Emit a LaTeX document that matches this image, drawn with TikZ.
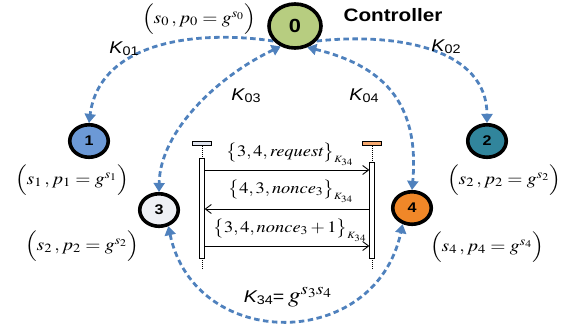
\documentclass[tikz,border=0pt]{standalone}
\usepackage{mathptmx}
\usepackage[no-math]{fontspec}
\setmainfont{Liberation Serif}
\newfontfamily\arial{Liberation Sans}
\usetikzlibrary{arrows.meta,shapes.geometric,backgrounds}
\definecolor{kblue}{RGB}{79,129,189}
\definecolor{cz}{RGB}{183,205,128}
\definecolor{ca}{RGB}{108,153,214}
\definecolor{cb}{RGB}{49,133,156}
\definecolor{cc}{RGB}{238,240,245}
\definecolor{cd}{RGB}{240,135,40}
\definecolor{hdL}{RGB}{222,226,236}
\definecolor{hdR}{RGB}{246,168,110}
\newcommand\sx[1]{\scalebox{1.15}[1]{#1}}
\newcommand\Klab[1]{{\arial\itshape\fontsize{17}{17}\selectfont K}\raisebox{-0.2em}{\arial\fontsize{12.5}{12.5}\selectfont #1}}
\newcommand\pk[2]{\Bigl(#1\,,#2\Bigr)}
\newcommand\ms[1]{\bigl\{#1\bigr\}_{\scriptscriptstyle K_{34}}}
\begin{document}
\begin{tikzpicture}[x=1pt,y=-1pt,
  nd/.style={ellipse,draw=black,line width=3.6pt,minimum width=38.5pt,minimum height=32.5pt,inner sep=0pt,font=\arial\bfseries\fontsize{14}{14}\selectfont},
  key/.style={kblue,line width=2.8pt,dash pattern=on 5.5pt off 3.5pt},
  key1/.style={key,-{Triangle[width=11pt,length=9pt]}},
  key2/.style={key,{Triangle[width=11pt,length=9pt]}-{Triangle[width=11pt,length=9pt]}},
  lab/.style={font=\fontsize{17}{17}\selectfont,inner sep=0pt},
  msglab/.style={font=\fontsize{16}{16}\selectfont,inner sep=0pt},
  hd/.style={draw=black,line width=0.9pt,minimum width=19pt,minimum height=4.5pt,inner sep=0pt},
  bar/.style={draw=black,line width=0.8pt,fill=white,minimum width=4.5pt,inner sep=0pt},
  life/.style={black,line width=0.7pt,dash pattern=on 1pt off 1pt},
  msg/.style={black,line width=0.9pt,-{Straight Barb[length=6pt,width=9pt]}}
]
\useasboundingbox (0,0) rectangle (575,333);
% nodes
\node[nd,fill=cz,minimum width=52pt,minimum height=44pt,font=\arial\bfseries\fontsize{19}{19}\selectfont] (n0) at (295,26) {\sx{0}};
\node[nd,fill=ca] (n1) at (89,141) {\sx{1}};
\node[nd,fill=cb] (n2) at (487,141) {\sx{2}};
\node[nd,fill=cc] (n3) at (159,210) {\sx{3}};
\node[nd,fill=cd] (n4) at (412,208) {\sx{4}};
\node[font=\arial\bfseries\fontsize{18}{18}\selectfont,inner sep=0pt] (ctl) at (393,15) {\sx{Controller}};
% key labels
\node[lab] (l0) at (199,19) {\sx{$\pk{s_0}{p_0=g^{s_0}}$}};
\node[lab] (l1) at (72,180) {\sx{$\pk{s_1}{p_1=g^{s_1}}$}};
\node[lab] (l2) at (504,180) {\sx{$\pk{s_2}{p_2=g^{s_2}}$}};
\node[lab] (l3) at (82,246) {\sx{$\pk{s_2}{p_2=g^{s_2}}$}};
\node[lab] (l4) at (487,247) {\sx{$\pk{s_4}{p_4=g^{s_4}}$}};
\node[inner sep=0pt] (k01) at (124,49) {\sx{\Klab{01}}};
\node[inner sep=0pt] (k02) at (446,47) {\sx{\Klab{02}}};
\node[inner sep=0pt] (k03) at (246,96) {\sx{\Klab{03}}};
\node[inner sep=0pt] (k04) at (364,96) {\sx{\Klab{04}}};
\node[inner sep=0pt] (k34) at (288,297) {\sx{\Klab{34}{\arial\fontsize{17}{17}\selectfont=}\,\,{\fontsize{22}{22}\selectfont$g^{s_3s_4}$}}};
% sequence diagram
\node[hd,fill=hdL] (hL) at (202,143.5) {};
\node[hd,fill=hdR] (hR) at (372,143.5) {};
\node[bar,minimum height=100pt] (bL) at (202,208) {};
\node[bar,minimum height=96pt] (bR) at (372,210) {};
\coordinate (eL) at (202,269);
\coordinate (eR) at (372,269);
\draw[life] (hL) -- (bL);
\draw[life] (hR) -- (bR);
\draw[life] (bL) -- (eL);
\draw[life] (bR) -- (eR);
\draw[msg] (bL.east |- 0,170) -- (bR.west |- 0,170);
\draw[msg] (bR.west |- 0,209) -- (bL.east |- 0,209);
\draw[msg] (bL.east |- 0,246) -- (bR.west |- 0,246);
\node[msglab] (m1) at (290,154) {\sx{$\ms{3,4,\mathit{request}}$}};
\node[msglab] (m2) at (291,191) {\sx{$\ms{4,3,\mathit{nonce}_3}$}};
\node[msglab] (m3) at (290,230) {\sx{$\ms{3,4,\mathit{nonce}_3+1}$}};
% key connectors
\begin{scope}[on background layer]
\draw[key1] (n0.215) .. controls (200,30) and (100,40) .. (n1.north);
\draw[key1] (n0.-35) .. controls (400,32) and (487,50) .. (n2.north);
\draw[key2] (n0.235) .. controls (220,75) and (160,130) .. (n3.north);
\draw[key2] (n0.300) .. controls (380,65) and (420,100) .. (n4.north);
\draw[key2] (n3.-60) .. controls (195,352) and (375,352) .. (n4.240);
\end{scope}
\end{tikzpicture}
\end{document}
